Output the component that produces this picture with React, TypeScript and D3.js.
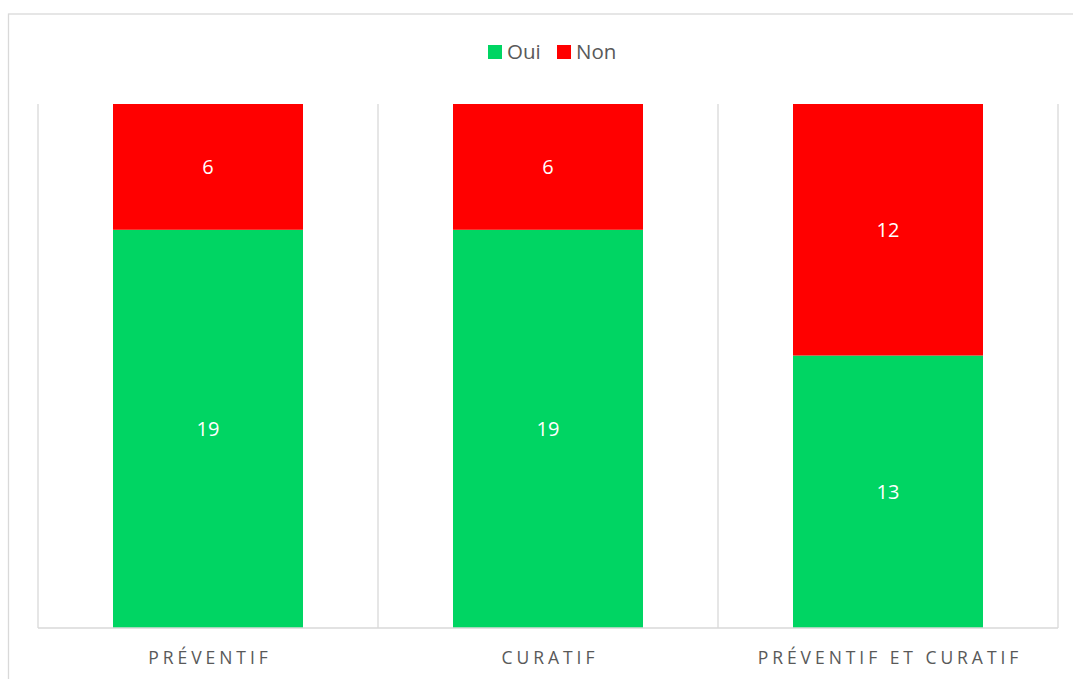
import React from "react";
import * as d3 from "d3";

const categories = ["PRÉVENTIF", "CURATIF", "PRÉVENTIF ET CURATIF"];
const ouiValues = [19, 19, 13];
const nonValues = [6, 6, 12];
const seriesNames = ["Oui", "Non"];
const seriesColors = ["#00D563", "#FF0000"];

const W = 1073;
const H = 679;
const plot = { left: 38, right: 1058, top: 104, bottom: 628 };

export default function App() {
  const bandStep = (plot.right - plot.left) / categories.length;
  const x = d3
    .scaleBand<string>()
    .domain(categories)
    .range([plot.left, plot.right])
    .paddingInner(0)
    .paddingOuter(0);
  const xCenter = (c: string) => (x(c) ?? 0) + x.bandwidth() / 2;
  const barW = bandStep * 0.5588;
  const y = d3.scaleLinear().domain([0, 25]).range([plot.bottom, plot.top]);

  const rows = categories.map((c, i) => ({ cat: c, Oui: ouiValues[i], Non: nonValues[i] }));
  const stack = d3.stack<any>().keys(seriesNames)(rows);

  const font = "'Open Sans', sans-serif";
  const gridXs = d3.range(categories.length + 1).map((i) => plot.left + bandStep * i);

  return (
    <svg width={W} height={H} style={{ position: "absolute", left: 0, top: 0 }}>
      <rect x={0} y={0} width={W} height={H} fill="#fff" />
      <rect x={8.5} y={14} width={W} height={H} fill="none" stroke="#d9d9d9" strokeWidth={1.3} />
      {gridXs.map((gx, i) => (
        <line key={i} x1={gx} x2={gx} y1={plot.top} y2={plot.bottom} stroke="#d9d9d9" strokeWidth={1.3} />
      ))}
      {stack.map((s, si) =>
        s.map((d, i) => {
          const cx = xCenter(categories[i]);
          const y0 = y(d[0]);
          const y1 = y(d[1]);
          return (
            <g key={`${si}-${i}`}>
              <rect x={cx - barW / 2} y={y1} width={barW} height={y0 - y1} fill={seriesColors[si]} />
              <text
                x={cx}
                y={(y0 + y1) / 2}
                dy="0.36em"
                textAnchor="middle"
                fill="#fff"
                fontFamily={font}
                fontSize={20}
              >
                {d[1] - d[0]}
              </text>
            </g>
          );
        })
      )}
      <line x1={plot.left} x2={plot.right} y1={plot.bottom} y2={plot.bottom} stroke="#d9d9d9" strokeWidth={1.3} />
      {categories.map((c) => (
        <text
          key={c}
          x={xCenter(c) + 2}
          y={664}
          textAnchor="middle"
          fill="#595959"
          fontFamily={font}
          fontSize={17.5}
          letterSpacing={3.95}
        >
          {c}
        </text>
      ))}
      {seriesNames.map((n, i) => {
        const lx = [488, 557][i];
        return (
          <g key={n}>
            <rect x={lx} y={45} width={14} height={14} fill={seriesColors[i]} />
            <text x={lx + 19} y={59} fill="#595959" fontFamily={font} fontSize={20.5}>
              {n}
            </text>
          </g>
        );
      })}
    </svg>
  );
}
